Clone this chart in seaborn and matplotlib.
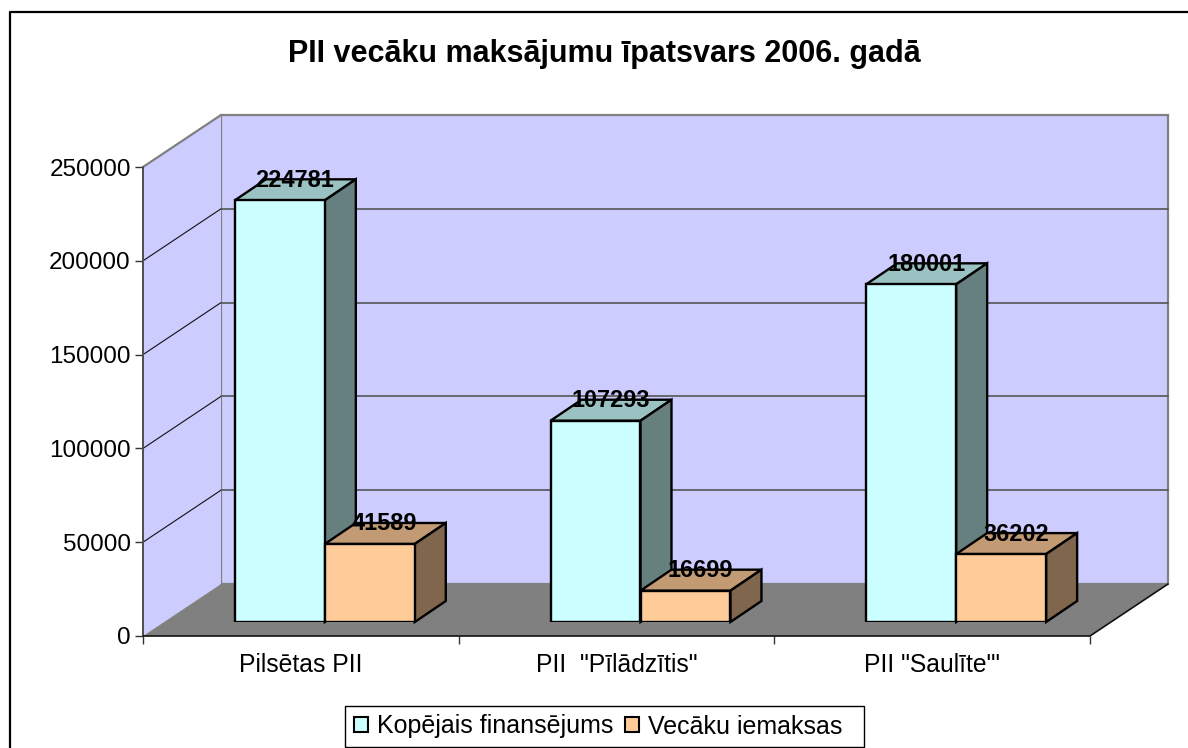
import matplotlib
matplotlib.use("Agg")
import matplotlib.pyplot as plt
from matplotlib.lines import Line2D
from matplotlib.patches import Polygon, Patch, Rectangle
from matplotlib.transforms import Affine2D
from matplotlib.colors import to_rgb
import pandas as pd
import seaborn as sns

categories = ['Pilsētas PII', 'PII  "Pīlādzītis"', 'PII "Saulīte"\'']
total_funding = [224781, 107293, 180001]
parent_fees = [41589, 16699, 36202]
series_names = ['Kopējais finansējums', 'Vecāku iemaksas']
y_ticks = [0, 50000, 100000, 150000, 200000, 250000]
title = 'PII vecāku maksājumu īpatsvars 2006. gadā'

W, H = 1188, 748
sns.set_theme(style="white")
plt.rcParams['font.family'] = ['Liberation Sans', 'DejaVu Sans']
fig = plt.figure(figsize=(W / 100, H / 100), dpi=100, facecolor='white')

def box(l, t, r, b):
    return [l / W, 1 - b / H, (r - l) / W, (b - t) / H]

# chart frame: only the top and left edges fall inside the picture
fig.add_artist(Line2D([9.5 / W, 9.5 / W, 1], [0, 1 - 11.5 / H, 1 - 11.5 / H],
                      transform=fig.transFigure, color='black', lw=1.6))

ax = fig.add_axes(box(143, 167, 1090, 636))
ax.set_xlim(-0.5, 2.5)
ax.set_ylim(0, 250000)
ax.patch.set_alpha(0)
for s in ax.spines.values():
    s.set_visible(False)

DEPTH = (78, 52)          # wall depth in pixels
BAR_DEPTH = (31, 21)      # bar depth in pixels
GAP = (24, 14)            # bars stand this far inside the floor

back = ax.transData + Affine2D().translate(*DEPTH)
axis_color = '#4d4d4d'
wall = '#ccccff'
gray = '#808080'

x0, x1 = ax.get_xlim()
y0, y1 = ax.get_ylim()
# back wall
ax.add_patch(Polygon([(x0, y0), (x1, y0), (x1, y1), (x0, y1)], closed=True, transform=back,
                     fc=wall, ec=gray, lw=1.6, clip_on=False, zorder=1))
# left wall
pl = [ax.transData.transform((x0, y0)), ax.transData.transform((x0, y1)),
      back.transform((x0, y1)), back.transform((x0, y0))]
ax.add_patch(Polygon(pl, closed=True, transform=None, fc=wall, ec='none', clip_on=False, zorder=1))
ax.plot([pl[1][0], pl[2][0]], [pl[1][1], pl[2][1]], transform=None, color=gray, lw=1.6, clip_on=False, zorder=2)
ax.plot([pl[0][0], pl[1][0]], [pl[0][1], pl[1][1]], transform=None, color=axis_color, lw=1.4, clip_on=False, zorder=2)
# floor
pf = [ax.transData.transform((x0, y0)), ax.transData.transform((x1, y0)),
      back.transform((x1, y0)), back.transform((x0, y0))]
ax.add_patch(Polygon(pf, closed=True, transform=None, fc=gray, ec='none', clip_on=False, zorder=2))
ax.plot([pf[0][0], pf[1][0], pf[2][0]], [pf[0][1], pf[1][1], pf[2][1]], transform=None,
        color='#111111', lw=1.2, clip_on=False, zorder=2.5)
# gridlines: thin diagonal on the left wall, heavier on the back wall
for v in y_ticks[1:-1]:
    a = ax.transData.transform((x0, v))
    b = back.transform((x0, v))
    c = back.transform((x1, v))
    ax.plot([a[0], b[0]], [a[1], b[1]], transform=None, color='#111111', lw=0.8,
            clip_on=False, zorder=1.5)
    ax.plot([b[0], c[0]], [b[1], c[1]], transform=None, color='#555555', lw=1.2,
            clip_on=False, zorder=1.5)

ax.set_yticks(y_ticks)
ax.set_yticklabels([str(v) for v in y_ticks])
ax.set_xticks([-0.5, 0.5, 1.5, 2.5])
ax.set_xticklabels([])
ax.set_xticks([0, 1, 2], minor=True)
ax.set_xticklabels(categories, minor=True)
ax.tick_params(axis='both', which='major', length=5.8, width=1, color='#333333', left=True, bottom=True)
ax.tick_params(axis='y', labelsize=17.5, pad=3, labelcolor='black')
ax.tick_params(axis='x', which='minor', length=0, labelsize=17.8, pad=12, labelcolor='black')

# bars live in an overlay axes shifted inside the floor
bx = fig.add_axes(box(143 + GAP[0], 167 - GAP[1], 1090 + GAP[0], 636 - GAP[1]))
bx.patch.set_alpha(0)
df = pd.DataFrame({
    'cat': categories * 2,
    'series': [series_names[0]] * 3 + [series_names[1]] * 3,
    'value': total_funding + parent_fees,
})
colors = ['#ccffff', '#ffcc99']
sns.barplot(data=df, x='cat', y='value', hue='series', hue_order=series_names, order=categories,
            palette=colors, saturation=1, width=0.57, dodge=True, gap=0, ax=bx,
            edgecolor='black', linewidth=1.7, legend=False, zorder=5)
bx.set_xlim(-0.5, 2.5)
bx.set_ylim(0, 250000)
bx.axis('off')
fig.canvas.draw()

def shade(c, f):
    return tuple(v * f for v in to_rgb(c))

bars = [p for p in bx.patches if p.get_height() > 0]
bars.sort(key=lambda p: p.get_x())
for p in bars:
    col = p.get_facecolor()
    (l, b_), (r, t_) = bx.transData.transform([(p.get_x(), 0), (p.get_x() + p.get_width(), p.get_height())])
    dx, dy = BAR_DEPTH
    top = [(l, t_), (r, t_), (r + dx, t_ + dy), (l + dx, t_ + dy)]
    side = [(r, b_), (r + dx, b_ + dy), (r + dx, t_ + dy), (r, t_)]
    bx.add_patch(Polygon(top, closed=True, transform=None, fc=shade(col, 0.76), ec='black', lw=1.7,
                         clip_on=False, zorder=3))
    bx.add_patch(Polygon(side, closed=True, transform=None, fc=shade(col, 0.50), ec='black', lw=1.7,
                         clip_on=False, zorder=3))
    bx.text((l + r) / 2 + 15, t_ + 13.5, f'{int(p.get_height())}', transform=None,
            ha='center', va='baseline', fontsize=16.9, fontweight='bold', color='black', zorder=8)

fig.text(604.5 / W, 1 - 62 / H, title, ha='center', va='baseline', fontsize=22, fontweight='bold',
         color='black')

# legend: frame drawn separately so it keeps the reference's width
fig.add_artist(Rectangle((344.5 / W, 1 - 747 / H), (863.5 - 344.5) / W, (747 - 706) / H,
                         transform=fig.transFigure, fc='white', ec='black', lw=1, zorder=4))
handles = [Patch(fc=c, ec='black', lw=1.5) for c in colors]
leg = fig.legend(handles, series_names, loc='center left', bbox_to_anchor=(344.5 / W, 1 - 726.5 / H), ncol=2,
                 fontsize=18, frameon=False,
                 handlelength=0.54, handleheight=0.54, handletextpad=0.38, columnspacing=0.48,
                 borderpad=0.38, borderaxespad=0, labelcolor='black')
leg.set_zorder(6)

fig.savefig('out.png', dpi=100, facecolor='white')
